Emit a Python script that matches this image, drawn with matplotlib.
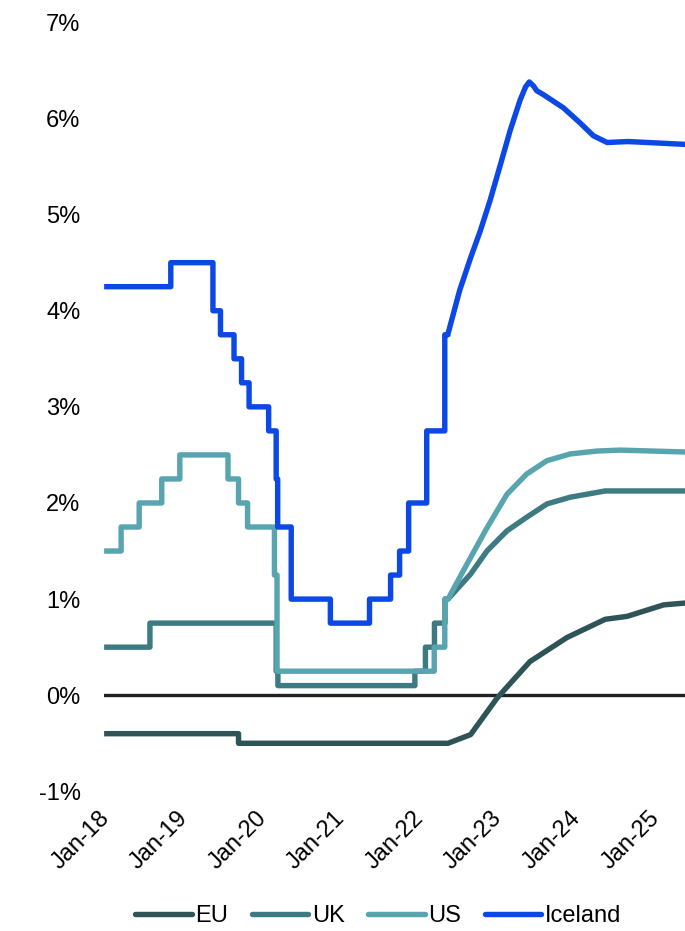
import pandas as pd
import matplotlib
matplotlib.use("Agg")
import matplotlib.pyplot as plt
import matplotlib.dates as mdates
import matplotlib.transforms as mtransforms
from matplotlib.ticker import FuncFormatter

plt.rcParams['font.family'] = ['Liberation Sans', 'DejaVu Sans']

# policy-rate steps (date of change, new rate) followed by the smooth path
eu_step_dates = ["2018-01-01", "2019-09-18"]
eu_step_vals = [-0.4, -0.5]
eu_path_dates = ["2022-05-19", "2022-09-01", "2023-01-02", "2023-06-04", "2023-11-23",
                 "2024-05-19", "2024-08-28", "2025-02-15", "2025-05-31"]
eu_path_vals = [-0.5, -0.41, -0.03, 0.35, 0.60, 0.79, 0.82, 0.94, 0.96]

uk_step_dates = ["2018-01-01", "2018-08-02", "2020-03-11", "2020-03-19", "2021-12-16",
                 "2022-02-03", "2022-03-17", "2022-05-05"]
uk_step_vals = [0.5, 0.75, 0.25, 0.1, 0.25, 0.5, 0.75, 1.0]
uk_path_dates = ["2022-05-19", "2022-09-01", "2022-11-16", "2023-02-17", "2023-05-19",
                 "2023-08-22", "2023-12-08", "2024-05-19", "2025-05-31"]
uk_path_vals = [1.0, 1.26, 1.5, 1.71, 1.85, 1.99, 2.06, 2.125, 2.125]

us_step_dates = ["2018-01-01", "2018-03-21", "2018-06-13", "2018-09-26", "2018-12-19",
                 "2019-07-31", "2019-09-18", "2019-10-30", "2020-03-03", "2020-03-15",
                 "2022-03-16", "2022-05-04"]
us_step_vals = [1.5, 1.75, 2.0, 2.25, 2.5, 2.25, 2.0, 1.75, 1.25, 0.25, 0.5, 1.0]
us_path_dates = ["2022-05-19", "2022-07-28", "2022-11-16", "2023-02-17", "2023-05-19",
                 "2023-08-22", "2023-12-08", "2024-04-10", "2024-07-28", "2025-05-31"]
us_path_vals = [1.0, 1.29, 1.74, 2.09, 2.30, 2.44, 2.51, 2.54, 2.55, 2.53]

is_step_dates = ["2018-01-01", "2018-11-07", "2019-05-22", "2019-06-26", "2019-08-28",
                 "2019-10-02", "2019-11-06", "2020-02-05", "2020-03-11", "2020-03-18",
                 "2020-05-20", "2020-11-18", "2021-05-19", "2021-08-25", "2021-10-06",
                 "2021-11-17", "2022-02-09", "2022-05-04"]
is_step_vals = [4.25, 4.5, 4.0, 3.75, 3.5, 3.25, 3.0, 2.75, 2.25, 1.75,
                1.0, 0.75, 1.0, 1.25, 1.5, 2.0, 2.75, 3.75]
is_path_dates = ["2022-05-19", "2022-07-12", "2022-09-01", "2022-10-16", "2022-12-01",
                 "2023-01-19", "2023-03-04", "2023-04-19", "2023-05-15", "2023-06-01",
                 "2023-06-20", "2023-07-05", "2023-08-04", "2023-11-07", "2024-01-25",
                 "2024-03-25", "2024-05-28", "2024-09-01", "2025-05-31"]
is_path_vals = [3.76, 4.21, 4.55, 4.83, 5.15, 5.53, 5.875, 6.19, 6.33, 6.38,
                6.34, 6.29, 6.25, 6.11, 5.95, 5.82, 5.75, 5.76, 5.73]

labels = ["EU", "UK", "US", "Iceland"]
colors = ["#2e5457", "#3e7a81", "#58a5af", "#0b48e6"]


def build(step_dates, step_vals, path_dates, path_vals):
    # expand steps into vertical jumps, then join the smooth path
    d = pd.to_datetime(step_dates)
    xs, ys = [d[0]], [step_vals[0]]
    for i in range(1, len(d)):
        xs += [d[i], d[i]]
        ys += [step_vals[i - 1], step_vals[i]]
    p = pd.to_datetime(path_dates)
    xs += [p[0]] + list(p)
    ys += [step_vals[-1]] + list(path_vals)
    return xs, ys


series = [
    build(eu_step_dates, eu_step_vals, eu_path_dates, eu_path_vals),
    build(uk_step_dates, uk_step_vals, uk_path_dates, uk_path_vals),
    build(us_step_dates, us_step_vals, us_path_dates, us_path_vals),
    build(is_step_dates, is_step_vals, is_path_dates, is_path_vals),
]

fig = plt.figure(figsize=(6.85, 9.31), dpi=100)
ax = fig.add_axes([0.152, 0.150, 0.848, 0.826])

ax.axhline(0, color="#222222", lw=2.4, zorder=1)
for (xs, ys), lab, col in zip(series, labels, colors):
    ax.plot(xs, ys, color=col, lw=3.9, label=lab, solid_joinstyle="round",
            solid_capstyle="butt", zorder=2)

ax.set_ylim(-1, 7)
ax.set_yticks(range(-1, 8))
ax.yaxis.set_major_formatter(FuncFormatter(lambda v, p: f"{v:.0f}%"))
ax.set_xlim(pd.Timestamp("2018-01-01"), pd.Timestamp("2025-05-25"))
ax.set_xticks(pd.date_range("2018-01-01", "2025-01-01", freq="YS"))
ax.xaxis.set_major_formatter(mdates.DateFormatter("Jan-%y"))
ax.tick_params(length=0, labelsize=17)
ax.tick_params(axis="y", pad=17)
ax.tick_params(axis="x", pad=11)
shift = mtransforms.ScaledTranslation(-0.06, 0, fig.dpi_scale_trans)
for t in ax.get_xticklabels():
    t.set_rotation(45)
    t.set_ha("right")
    t.set_rotation_mode("anchor")
    t.set_transform(t.get_transform() + shift)
for s in ax.spines.values():
    s.set_visible(False)

leg = fig.legend(loc="center", bbox_to_anchor=(0.552, 0.016), ncol=4, frameon=False,
                 fontsize=17, handlelength=2.4, handletextpad=0.15, columnspacing=1.0)
for h in leg.get_lines():
    h.set_solid_capstyle("round")

fig.savefig("out.png", dpi=100)
